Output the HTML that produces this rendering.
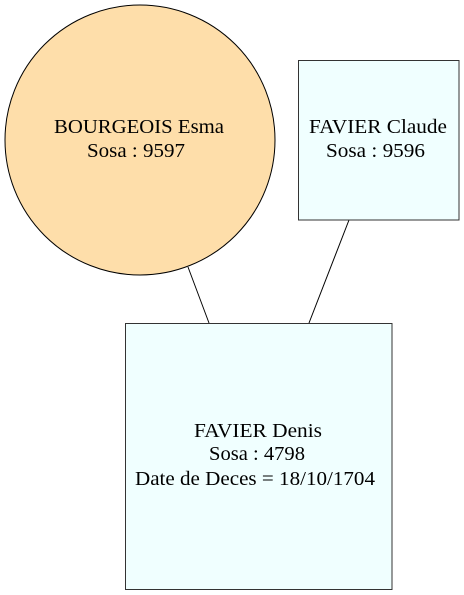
<!DOCTYPE html>
<html><head><meta charset="utf-8"><style>
html,body{margin:0;padding:0;background:#fff;}
svg{display:block;}
text{font-family:"Liberation Serif",serif;font-size:19.5px;fill:#000;}
</style></head><body>
<svg width="464" height="595" viewBox="0 0 464 595">
<line x1="188" y1="267" x2="209" y2="323" stroke="#000" stroke-width="1"/>
<line x1="349" y1="220" x2="309" y2="323" stroke="#000" stroke-width="1"/>
<circle cx="140" cy="140" r="135" fill="#fedeaa" stroke="#000" stroke-width="1"/>
<rect x="298.5" y="60.5" width="160.5" height="159.5" fill="#f0ffff" stroke="#333" stroke-width="1"/>
<rect x="125.5" y="323.5" width="266.5" height="266" fill="#f0ffff" stroke="#333" stroke-width="1"/>
<text x="54" y="133" textLength="170" lengthAdjust="spacingAndGlyphs">BOURGEOIS Esma</text>
<text x="87" y="157" textLength="98" lengthAdjust="spacingAndGlyphs">Sosa : 9597</text>
<text x="309" y="133" textLength="138" lengthAdjust="spacingAndGlyphs">FAVIER Claude</text>
<text x="326" y="157" textLength="99" lengthAdjust="spacingAndGlyphs">Sosa : 9596</text>
<text x="194" y="437" textLength="128" lengthAdjust="spacingAndGlyphs">FAVIER Denis</text>
<text x="209" y="460" textLength="96" lengthAdjust="spacingAndGlyphs">Sosa : 4798</text>
<text x="135" y="485" textLength="240" lengthAdjust="spacingAndGlyphs">Date de Deces = 18/10/1704</text>
</svg>
</body></html>
